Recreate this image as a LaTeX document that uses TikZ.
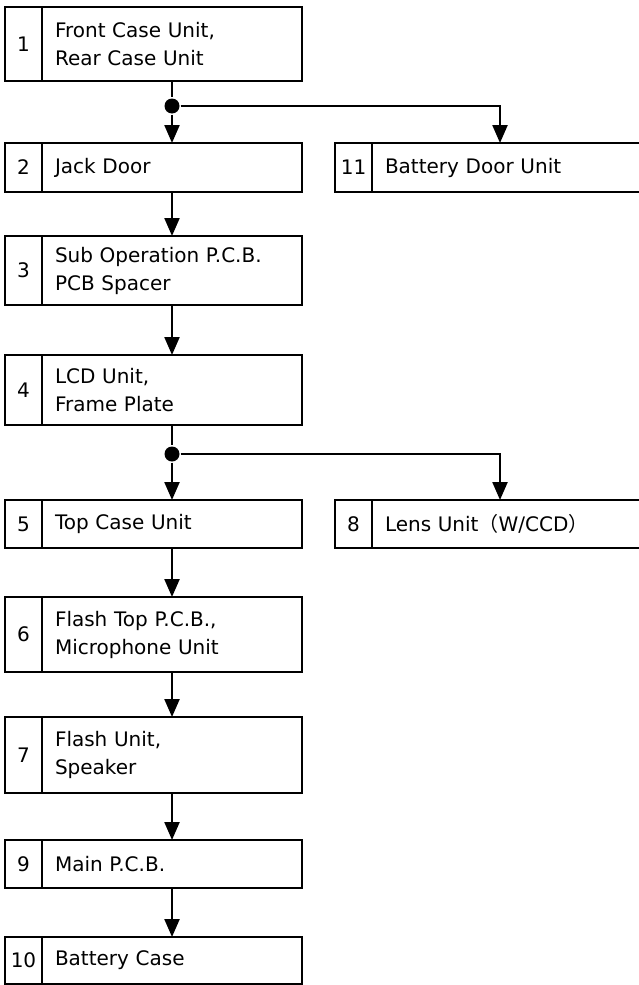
\documentclass[tikz,border=0pt]{standalone}
\usepackage{fontspec}
\setmainfont{DejaVu Sans}
\newfontfamily\cjk{Noto Sans CJK JP}
\usetikzlibrary{arrows.meta,positioning}

\begin{document}
\begin{tikzpicture}[x=1pt,y=-1pt,line width=2.3pt,
  numcell/.style={draw,rectangle,outer sep=0pt,inner sep=0pt,minimum width=37pt,anchor=north west,font=\fontsize{20}{28}\selectfont},
  partcell/.style={draw,rectangle,outer sep=0pt,inner xsep=13pt,inner ysep=0pt,text width=234pt,align=left,font=\fontsize{20}{28}\selectfont},
  sidecell/.style={partcell,text width=290pt},
  flowarrow/.style={-{Triangle[length=18pt,width=15pt]}},
  joint/.style={circle,fill,inner sep=0pt,minimum size=15pt}]
\path[use as bounding box] (0,0) rectangle (639,985);
% left column
\node[numcell,minimum height=74pt] (n1) at (5,7) {1};
\node[partcell,minimum height=74pt,right=0pt of n1] (p1) {Front Case Unit,\\Rear Case Unit};
\node[numcell,minimum height=49pt] (n2) at (5,143) {2};
\node[partcell,minimum height=49pt,right=0pt of n2] (p2) {Jack Door};
\node[numcell,minimum height=69pt] (n3) at (5,236) {3};
\node[partcell,minimum height=69pt,right=0pt of n3] (p3) {Sub Operation P.C.B.\\PCB Spacer};
\node[numcell,minimum height=70pt] (n4) at (5,355) {4};
\node[partcell,minimum height=70pt,right=0pt of n4] (p4) {LCD Unit,\\Frame Plate};
\node[numcell,minimum height=48pt] (n5) at (5,500) {5};
\node[partcell,minimum height=48pt,right=0pt of n5] (p5) {Top Case Unit};
\node[numcell,minimum height=75pt] (n6) at (5,597) {6};
\node[partcell,minimum height=75pt,right=0pt of n6] (p6) {Flash Top P.C.B.,\\Microphone Unit};
\node[numcell,minimum height=76pt] (n7) at (5,717) {7};
\node[partcell,minimum height=76pt,right=0pt of n7] (p7) {Flash Unit,\\Speaker};
\node[numcell,minimum height=48pt] (n9) at (5,840) {9};
\node[partcell,minimum height=48pt,right=0pt of n9] (p9) {Main P.C.B.};
\node[numcell,minimum height=47pt] (n10) at (5,937) {10};
\node[partcell,minimum height=47pt,right=0pt of n10] (p10) {Battery Case};
% right column
\node[numcell,minimum height=49pt] (n11) at (335,143) {11};
\node[sidecell,minimum height=49pt,right=0pt of n11] (p11) {Battery Door Unit};
\node[numcell,minimum height=48pt] (n8) at (335,500) {8};
\node[sidecell,minimum height=48pt,right=0pt of n8] (p8) {Lens Unit{\cjk （}W/CCD{\cjk ）}};
% branch points
\node[joint] (j1) at ([yshift=-25pt]p1.south) {};
\node[joint] (j2) at ([yshift=-29pt]p4.south) {};
\coordinate (c1) at (500,106);
\coordinate (c2) at (500,454);
% connectors
\draw (p1) -- (j1);
\draw[flowarrow] (j1) -- (p2);
\draw[flowarrow] (j1) -- (c1) -- (c1 |- p11.north);
\draw[flowarrow] (p2) -- (p3);
\draw[flowarrow] (p3) -- (p4);
\draw (p4) -- (j2);
\draw[flowarrow] (j2) -- (p5);
\draw[flowarrow] (j2) -- (c2) -- (c2 |- p8.north);
\draw[flowarrow] (p5) -- (p6);
\draw[flowarrow] (p6) -- (p7);
\draw[flowarrow] (p7) -- (p9);
\draw[flowarrow] (p9) -- (p10);
\end{tikzpicture}
\end{document}
